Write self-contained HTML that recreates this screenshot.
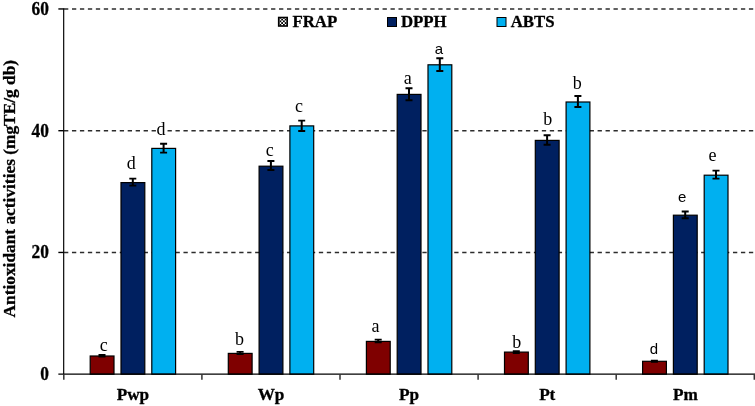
<!DOCTYPE html>
<html><head><meta charset="utf-8"><title>Antioxidant activities</title>
<style>html,body{margin:0;padding:0;background:#fff}svg{display:block}</style></head>
<body>
<svg width="755" height="406" viewBox="0 0 755 406">
<defs><pattern id="chk" x="279.5" y="18.7" width="3.5" height="3.5" patternUnits="userSpaceOnUse"><rect width="3.5" height="3.5" fill="#000"/><rect width="1.75" height="1.75" fill="#fff"/><rect x="1.75" y="1.75" width="1.75" height="1.75" fill="#fff"/></pattern></defs>
<rect width="755" height="406" fill="#fff"/>
<line x1="64.0" y1="252.45" x2="755" y2="252.45" stroke="#2c2c2c" stroke-width="1.6" stroke-dasharray="4.3 3.664"/>
<line x1="64.0" y1="130.70" x2="755" y2="130.70" stroke="#2c2c2c" stroke-width="1.6" stroke-dasharray="4.3 3.664"/>
<line x1="64.0" y1="8.95" x2="755" y2="8.95" stroke="#2c2c2c" stroke-width="1.6" stroke-dasharray="4.3 3.664"/>
<rect x="90.20" y="356.00" width="23.8" height="18.20" fill="#7f0000" stroke="#000" stroke-width="1.2"/>
<path d="M98.50 355.00H105.50M98.50 356.60H105.50" stroke="#000" stroke-width="1.9" fill="none"/>
<path d="M102.00 355.00V356.60" stroke="#000" stroke-width="2" fill="none"/>
<rect x="121.00" y="182.60" width="23.8" height="191.60" fill="#002060" stroke="#000" stroke-width="1.2"/>
<path d="M129.30 178.60H136.30M129.30 185.60H136.30" stroke="#000" stroke-width="1.9" fill="none"/>
<path d="M132.80 178.60V185.60" stroke="#000" stroke-width="2" fill="none"/>
<rect x="151.80" y="148.40" width="23.8" height="225.80" fill="#00b0f0" stroke="#000" stroke-width="1.2"/>
<path d="M160.10 143.80H167.10M160.10 152.60H167.10" stroke="#000" stroke-width="1.9" fill="none"/>
<path d="M163.60 143.80V152.60" stroke="#000" stroke-width="2" fill="none"/>
<rect x="228.30" y="353.40" width="23.8" height="20.80" fill="#7f0000" stroke="#000" stroke-width="1.2"/>
<path d="M236.60 351.90H243.60M236.60 354.00H243.60" stroke="#000" stroke-width="1.9" fill="none"/>
<path d="M240.10 351.90V354.00" stroke="#000" stroke-width="2" fill="none"/>
<rect x="259.10" y="166.20" width="23.8" height="208.00" fill="#002060" stroke="#000" stroke-width="1.2"/>
<path d="M267.40 161.00H274.40M267.40 170.00H274.40" stroke="#000" stroke-width="1.9" fill="none"/>
<path d="M270.90 161.00V170.00" stroke="#000" stroke-width="2" fill="none"/>
<rect x="289.90" y="125.90" width="23.8" height="248.30" fill="#00b0f0" stroke="#000" stroke-width="1.2"/>
<path d="M298.20 120.60H305.20M298.20 131.00H305.20" stroke="#000" stroke-width="1.9" fill="none"/>
<path d="M301.70 120.60V131.00" stroke="#000" stroke-width="2" fill="none"/>
<rect x="366.40" y="341.40" width="23.8" height="32.80" fill="#7f0000" stroke="#000" stroke-width="1.2"/>
<path d="M374.70 339.60H381.70M374.70 342.40H381.70" stroke="#000" stroke-width="1.9" fill="none"/>
<path d="M378.20 339.60V342.40" stroke="#000" stroke-width="2" fill="none"/>
<rect x="397.20" y="94.40" width="23.8" height="279.80" fill="#002060" stroke="#000" stroke-width="1.2"/>
<path d="M405.50 88.20H412.50M405.50 100.20H412.50" stroke="#000" stroke-width="1.9" fill="none"/>
<path d="M409.00 88.20V100.20" stroke="#000" stroke-width="2" fill="none"/>
<rect x="428.00" y="64.80" width="23.8" height="309.40" fill="#00b0f0" stroke="#000" stroke-width="1.2"/>
<path d="M436.30 58.20H443.30M436.30 71.00H443.30" stroke="#000" stroke-width="1.9" fill="none"/>
<path d="M439.80 58.20V71.00" stroke="#000" stroke-width="2" fill="none"/>
<rect x="504.50" y="352.10" width="23.8" height="22.10" fill="#7f0000" stroke="#000" stroke-width="1.2"/>
<path d="M512.80 351.10H519.80M512.80 353.00H519.80" stroke="#000" stroke-width="1.9" fill="none"/>
<path d="M516.30 351.10V353.00" stroke="#000" stroke-width="2" fill="none"/>
<rect x="535.30" y="140.40" width="23.8" height="233.80" fill="#002060" stroke="#000" stroke-width="1.2"/>
<path d="M543.60 135.20H550.60M543.60 144.70H550.60" stroke="#000" stroke-width="1.9" fill="none"/>
<path d="M547.10 135.20V144.70" stroke="#000" stroke-width="2" fill="none"/>
<rect x="566.10" y="102.00" width="23.8" height="272.20" fill="#00b0f0" stroke="#000" stroke-width="1.2"/>
<path d="M574.40 96.00H581.40M574.40 107.00H581.40" stroke="#000" stroke-width="1.9" fill="none"/>
<path d="M577.90 96.00V107.00" stroke="#000" stroke-width="2" fill="none"/>
<rect x="642.60" y="361.30" width="23.8" height="12.90" fill="#7f0000" stroke="#000" stroke-width="1.2"/>
<path d="M650.90 360.60H657.90M650.90 361.90H657.90" stroke="#000" stroke-width="1.9" fill="none"/>
<path d="M654.40 360.60V361.90" stroke="#000" stroke-width="2" fill="none"/>
<rect x="673.40" y="215.20" width="23.8" height="159.00" fill="#002060" stroke="#000" stroke-width="1.2"/>
<path d="M681.70 211.50H688.70M681.70 218.20H688.70" stroke="#000" stroke-width="1.9" fill="none"/>
<path d="M685.20 211.50V218.20" stroke="#000" stroke-width="2" fill="none"/>
<rect x="704.20" y="175.20" width="23.8" height="199.00" fill="#00b0f0" stroke="#000" stroke-width="1.2"/>
<path d="M712.50 170.60H719.50M712.50 178.60H719.50" stroke="#000" stroke-width="1.9" fill="none"/>
<path d="M716.00 170.60V178.60" stroke="#000" stroke-width="2" fill="none"/>
<line x1="63.65" y1="8.35" x2="63.65" y2="374.80" stroke="#1a1a1a" stroke-width="1.3"/>
<line x1="58.35" y1="374.2" x2="755" y2="374.2" stroke="#000" stroke-width="1.3"/>
<line x1="58.35" y1="252.45" x2="63.75" y2="252.45" stroke="#000" stroke-width="1.4"/>
<line x1="58.35" y1="130.70" x2="63.75" y2="130.70" stroke="#000" stroke-width="1.4"/>
<line x1="58.35" y1="8.95" x2="63.75" y2="8.95" stroke="#000" stroke-width="1.4"/>
<line x1="63.80" y1="374.2" x2="63.80" y2="379.8" stroke="#333" stroke-width="1.5"/>
<line x1="201.90" y1="374.2" x2="201.90" y2="379.8" stroke="#333" stroke-width="1.5"/>
<line x1="340.00" y1="374.2" x2="340.00" y2="379.8" stroke="#333" stroke-width="1.5"/>
<line x1="478.10" y1="374.2" x2="478.10" y2="379.8" stroke="#333" stroke-width="1.5"/>
<line x1="616.20" y1="374.2" x2="616.20" y2="379.8" stroke="#333" stroke-width="1.5"/>
<line x1="754.30" y1="374.2" x2="754.30" y2="379.8" stroke="#333" stroke-width="1.5"/>
<text transform="translate(48.8 380.10) scale(1 1.05)" text-anchor="end" font-family="Liberation Serif, Times New Roman, serif" font-weight="bold" font-size="17.33" stroke="#000" stroke-width="0.3">0</text>
<text transform="translate(48.8 258.35) scale(1 1.05)" text-anchor="end" font-family="Liberation Serif, Times New Roman, serif" font-weight="bold" font-size="17.33" stroke="#000" stroke-width="0.3">20</text>
<text transform="translate(48.8 136.60) scale(1 1.05)" text-anchor="end" font-family="Liberation Serif, Times New Roman, serif" font-weight="bold" font-size="17.33" stroke="#000" stroke-width="0.3">40</text>
<text transform="translate(48.8 14.85) scale(1 1.05)" text-anchor="end" font-family="Liberation Serif, Times New Roman, serif" font-weight="bold" font-size="17.33" stroke="#000" stroke-width="0.3">60</text>
<text x="132.95" y="400.4" text-anchor="middle" font-family="Liberation Serif, Times New Roman, serif" font-weight="bold" font-size="17.2" stroke="#000" stroke-width="0.3">Pwp</text>
<text x="271.05" y="400.4" text-anchor="middle" font-family="Liberation Serif, Times New Roman, serif" font-weight="bold" font-size="17.2" stroke="#000" stroke-width="0.3">Wp</text>
<text x="409.15" y="400.4" text-anchor="middle" font-family="Liberation Serif, Times New Roman, serif" font-weight="bold" font-size="17.2" stroke="#000" stroke-width="0.3">Pp</text>
<text x="547.25" y="400.4" text-anchor="middle" font-family="Liberation Serif, Times New Roman, serif" font-weight="bold" font-size="17.2" stroke="#000" stroke-width="0.3">Pt</text>
<text x="685.35" y="400.4" text-anchor="middle" font-family="Liberation Serif, Times New Roman, serif" font-weight="bold" font-size="17.2" stroke="#000" stroke-width="0.3">Pm</text>
<text transform="translate(14.9 188.7) rotate(-90)" text-anchor="middle" font-family="Liberation Serif, Times New Roman, serif" font-weight="bold" font-size="17.33" stroke="#000" stroke-width="0.3">Antioxidant activities (mgTE/g db)</text>
<rect x="278.65" y="17.45" width="8.6" height="8.6" fill="url(#chk)" stroke="#000" stroke-width="1.5"/>
<text x="292.4" y="27.0" font-family="Liberation Serif, Times New Roman, serif" font-weight="bold" font-size="16.8" stroke="#000" stroke-width="0.3">FRAP</text>
<rect x="387.5" y="17.5" width="9" height="9" fill="#002060" stroke="#000" stroke-width="1"/>
<text x="401" y="27.0" font-family="Liberation Serif, Times New Roman, serif" font-weight="bold" font-size="16.8" stroke="#000" stroke-width="0.3">DPPH</text>
<rect x="497" y="17.5" width="9" height="9" fill="#00b0f0" stroke="#000" stroke-width="1"/>
<text x="510.7" y="27.0" font-family="Liberation Serif, Times New Roman, serif" font-weight="bold" font-size="16.8" stroke="#000" stroke-width="0.3">ABTS</text>
<rect x="156.3" y="122" width="10.2" height="14" fill="#fff"/>
<text x="103.7" y="350.7" text-anchor="middle" font-family="Liberation Serif, Times New Roman, serif" font-size="18">c</text>
<text x="131.2" y="168.7" text-anchor="middle" font-family="Liberation Serif, Times New Roman, serif" font-size="18">d</text>
<text x="160.9" y="134.6" text-anchor="middle" font-family="Liberation Serif, Times New Roman, serif" font-size="18">d</text>
<text x="239.5" y="344.8" text-anchor="middle" font-family="Liberation Serif, Times New Roman, serif" font-size="18">b</text>
<text x="269.8" y="155.5" text-anchor="middle" font-family="Liberation Serif, Times New Roman, serif" font-size="18">c</text>
<text x="299.0" y="112.2" text-anchor="middle" font-family="Liberation Serif, Times New Roman, serif" font-size="18">c</text>
<text x="375.6" y="331.5" text-anchor="middle" font-family="Liberation Serif, Times New Roman, serif" font-size="18">a</text>
<text x="407.7" y="83.7" text-anchor="middle" font-family="Liberation Serif, Times New Roman, serif" font-size="18">a</text>
<text x="438.9" y="53.8" text-anchor="middle" font-family="Liberation Sans, Arial, sans-serif" font-size="15">a</text>
<text x="516.7" y="348.3" text-anchor="middle" font-family="Liberation Serif, Times New Roman, serif" font-size="18">b</text>
<text x="547.7" y="124.9" text-anchor="middle" font-family="Liberation Serif, Times New Roman, serif" font-size="18">b</text>
<text x="577.3" y="88.5" text-anchor="middle" font-family="Liberation Serif, Times New Roman, serif" font-size="18">b</text>
<text x="654.0" y="353.7" text-anchor="middle" font-family="Liberation Sans, Arial, sans-serif" font-size="15">d</text>
<text x="682.2" y="202.0" text-anchor="middle" font-family="Liberation Sans, Arial, sans-serif" font-size="15">e</text>
<text x="712.5" y="160.8" text-anchor="middle" font-family="Liberation Serif, Times New Roman, serif" font-size="18">e</text>
</svg>
</body></html>
